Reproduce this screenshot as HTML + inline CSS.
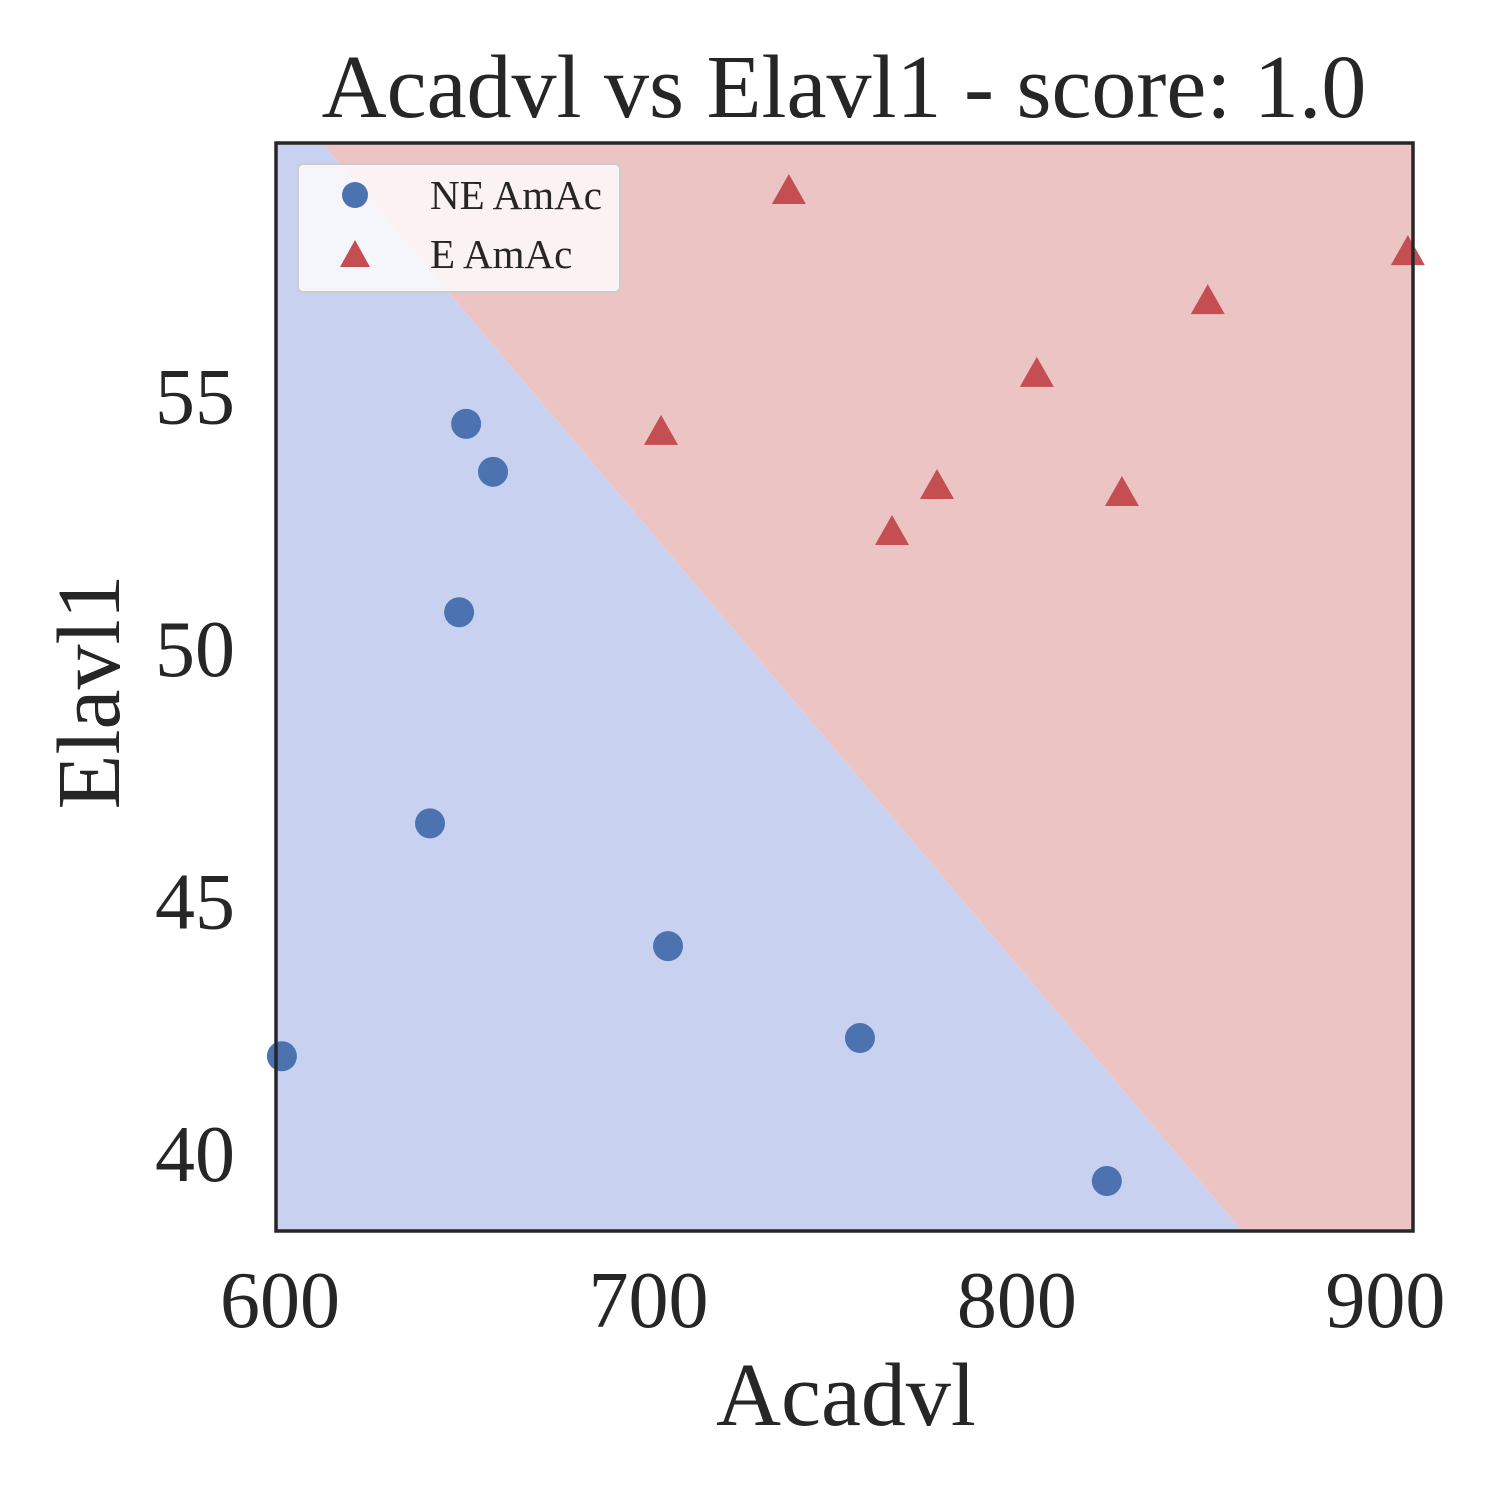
<!DOCTYPE html>
<html><head><meta charset="utf-8"><style>
body{margin:0;background:#fff}
svg text{font-family:"Liberation Serif",serif;fill:#262626}
</style></head><body>
<svg id="chart" width="1500" height="1500" viewBox="0 0 1500 1500">
<defs><clipPath id="clip"><rect x="276" y="143" width="1137" height="1088"/></clipPath></defs>
<g id="regions" clip-path="url(#clip)"></g>
<g id="marks"></g>
<rect x="276" y="143" width="1137" height="1088" fill="none" stroke="#262626" stroke-width="3.5"/>
<g id="xticks"></g>
<g id="yticks"></g>
<text x="844" y="117" font-size="90" text-anchor="middle">Acadvl vs Elavl1 - score: 1.0</text>
<text x="846" y="1425" font-size="90" text-anchor="middle">Acadvl</text>
<text transform="translate(119,692) rotate(-90)" font-size="90" text-anchor="middle">Elavl1</text>
<g>
<rect x="298" y="164" width="322" height="128" rx="5" fill="#fff" fill-opacity="0.8" stroke="#ccc" stroke-width="2"/>
<circle cx="355" cy="195" r="13" fill="#4c72b0"/>
<text x="430" y="209" font-size="41">NE AmAc</text>
<path d="M355,240 L370,267 L340,267 Z" fill="#c44e52"/>
<text x="430" y="268" font-size="41">E AmAc</text>
</g>
</svg>
<script>
const xTicks=[600,700,800,900];
const yTicks=[40,45,50,55];
const neX=[600.5,640.7,648.6,650.5,657.8,705.3,757.4,824.4];
const neY=[41.92,46.53,50.71,54.44,53.49,44.10,42.28,39.45];
const eX=[738.1,703.4,766.1,778.3,805.4,828.5,851.8,906.1];
const eY=[59.03,54.26,52.28,53.19,55.41,53.05,56.85,57.82];
const boundaryX=[611.4,861.1];
const boundaryY=[60.0,38.46];
const xMin=598.9,xMax=907.5,yMin=38.46,yMax=60.0;
const L=276,R=1413,T=143,B=1231;
const sx=v=>L+(v-xMin)/(xMax-xMin)*(R-L);
const sy=v=>B-(v-yMin)/(yMax-yMin)*(B-T);
const NS="http://www.w3.org/2000/svg";
function mk(t,a,p){const e=document.createElementNS(NS,t);for(const k in a)e.setAttribute(k,a[k]);p.appendChild(e);return e;}
const reg=document.getElementById('regions');
const bx1=sx(boundaryX[0]),by1=sy(boundaryY[0]),bx2=sx(boundaryX[1]),by2=sy(boundaryY[1]);
const blue=mk('polygon',{points:`${L-5},${T-5} ${bx1},${by1} ${bx2},${by2} ${L-5},${B+5}`,fill:'#c9d1f1'},reg);


const red=mk('polygon',{points:`${bx1},${by1} ${R+5},${T-5} ${R+5},${B+5} ${bx2},${by2}`,fill:'#ecc4c4'},reg);


const marks=document.getElementById('marks');
neX.forEach((x,i)=>{const c=mk('circle',{cx:sx(x),cy:sy(neY[i]),r:15,fill:'#4c72b0'},marks);

});
eX.forEach((x,i)=>{const cx=sx(x),cy=sy(eY[i]);const p=mk('path',{d:`M${cx},${cy-18} L${cx+17},${cy+12} L${cx-17},${cy+12} Z`,fill:'#c44e52'},marks);

});
const xg=document.getElementById('xticks');
xTicks.forEach(v=>{const t=mk('text',{x:sx(v),y:1327,'font-size':80,'text-anchor':'middle'},xg);t.textContent=v;

});
const yg=document.getElementById('yticks');
yTicks.forEach(v=>{const t=mk('text',{x:235,y:sy(v)+28,'font-size':80,'text-anchor':'end'},yg);t.textContent=v;

});
</script>
</body></html>
